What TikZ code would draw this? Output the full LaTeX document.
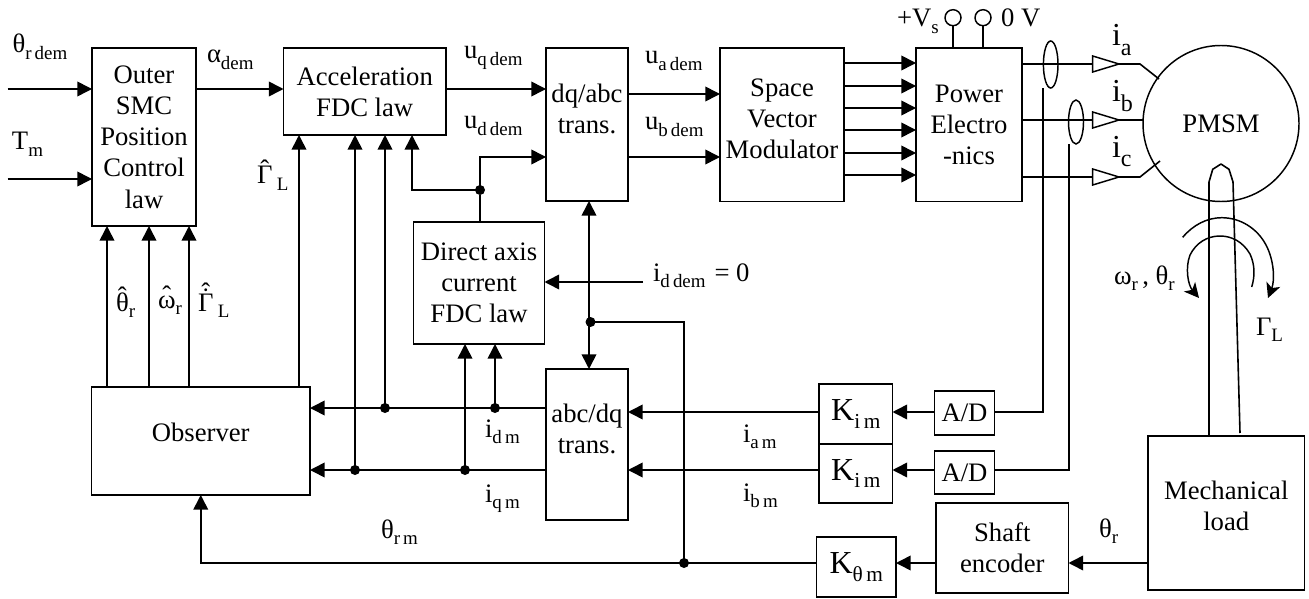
\documentclass[tikz,border=0pt]{standalone}
\usepackage{fontspec}
\setmainfont{Liberation Serif}
\usetikzlibrary{arrows.meta,shapes.geometric}
\newcommand\mainsz{\fontsize{20}{23.4}\selectfont}
\newcommand\gainsz{\fontsize{24}{26}\selectfont}
\newcommand\phasesz{\fontsize{24}{26}\selectfont}
\newcommand\lsub[1]{{\fontsize{14.2}{14.2}\selectfont\raisebox{-5pt}{#1}}}
\newcommand\gsub[1]{{\fontsize{16}{16}\selectfont\raisebox{-5.5pt}{#1}}}
\newcommand\psub[1]{{\fontsize{18}{18}\selectfont\raisebox{-7pt}{#1}}}
\newcommand\hatted[2]{\ooalign{\hfil\raisebox{#2}{ˆ}\hfil\cr #1\cr}}
\newcommand\hatdot[1]{\ooalign{\hfil\raisebox{7pt}{ˆ}\hfil\cr\hfil\raisebox{3.5pt}{˙}\hfil\cr #1\cr}}
\tikzset{
  px/.style 2 args={minimum width=#1*0.75pt,minimum height=#2*0.75pt},
  box/.style={draw,line width=1.2pt,inner sep=0pt,outer sep=0pt,align=center,font=\mainsz},
  gain/.style={box,font=\gainsz},
  lab/.style={anchor=base west,inner sep=0pt,outer sep=0pt,font=\mainsz},
  conn/.style={line width=1.2pt},
  arr/.style={conn,-{Triangle[length=11pt,width=11pt]},shorten >=0pt},
  darr/.style={conn,{Triangle[length=11pt,width=11pt]}-{Triangle[length=11pt,width=11pt]}},
  dot/.style={circle,fill=black,inner sep=0pt,minimum size=7.5pt,outer sep=0pt},
  term/.style={circle,draw,line width=1.1pt,inner sep=0pt,minimum size=12pt,outer sep=0pt},
  sleeve/.style={ellipse,draw,line width=1.1pt,inner sep=0pt,outer sep=0pt},
  buf/.style={draw,line width=1.1pt,fill=white,line join=miter},
  curv/.style={line width=1.1pt,-{Stealth[length=11pt,width=11pt,inset=3pt]}},
}
\begin{document}
\begin{tikzpicture}[x=0.75pt,y=-0.75pt]
\useasboundingbox (0,0) rectangle (1309,599);
% blocks
\node[box,px={104}{178}] (outer) at (144,137) {Outer\\SMC\\Position\\Control\\law};
\node[box,px={162.5}{87}] (accel) at (364.75,91.5) {Acceleration\\FDC law};
\node[box,px={82}{153}] (dq) at (587,124.5) {dq/abc\\trans.\\~};
\node[box,px={124}{153.5}] (svm) at (782,124.75) {Space\\Vector\\Modulator\\[-14pt]~};
\node[box,px={106}{153.5}] (power) at (969,124.75) {Power\\Electro\\-nics};
\node[box,px={131}{122}] (direct) at (479,283) {Direct axis\\current\\FDC law};
\node[box,px={82}{151}] (abc) at (587,444.5) {abc/dq\\trans.\\~};
\node[box,px={218.5}{108}] (obs) at (200.75,441) {Observer\\[-11pt]~};
\node[gain,px={73.5}{60}] (kim1) at (855.75,414) {K\gsub{i\,m}};
\node[gain,px={73.5}{59}] (kim2) at (855.75,473.5) {K\gsub{i\,m}};
\node[gain,px={79.5}{60}] (kth) at (856.25,567) {K\gsub{θ\,m}};
\node[box,px={60}{44}] (ad1) at (964.5,413) {A/D};
\node[box,px={60}{43}] (ad2) at (964.5,472.5) {A/D};
\node[box,px={132.5}{90}] (shaft) at (1002.25,548) {Shaft\\encoder};
\node[box,px={156.5}{154}] (mech) at (1226.25,513) {Mechanical\\load\\[-12pt]~};
\node[circle,draw,line width=1.1pt,minimum size=156*0.75pt,inner sep=0pt,outer sep=0pt,font=\mainsz] (motor) at (1221,123.5) {PMSM};
% rows and columns
\coordinate (rIn1) at (7.5,89);
\coordinate (rIn2) at (7.5,179);
\coordinate (rUa) at (0,94);
\coordinate (rUb) at (0,157);
\coordinate (rId) at (0,408);
\coordinate (rIq) at (0,470);
\coordinate (rKa) at (0,412);
\coordinate (rTh) at (0,563);
\coordinate (cA) at (107,0);
\coordinate (cB) at (149,0);
\coordinate (cC) at (189,0);
\coordinate (cD) at (299,0);
\coordinate (cE) at (412,0);
% inputs
\draw[arr] (rIn1) -- (outer.west |- rIn1);
\draw[arr] (rIn2) -- (outer.west |- rIn2);
\draw[arr] (outer.east |- rIn1) -- (accel.west |- rIn1);
\draw[arr] (accel.east |- rIn1) -- (dq.west |- rIn1);
\draw[arr] (dq.east |- rUa) -- (svm.west |- rUa);
\draw[arr] (dq.east |- rUb) -- (svm.west |- rUb);
% modulator to power electronics
\foreach \yy [count=\ii] in {63,86,108,130,153,175}{
  \coordinate (pwm\ii) at (0,\yy);
  \draw[arr] (svm.east |- pwm\ii) -- (power.west |- pwm\ii);
}
% ud junction
\node[dot] (j1) at (480,190) {};
\draw[conn] (direct.north -| j1) -- (j1);
\draw[arr] (j1.center) |- (dq.west |- rUb);
\draw[arr] (j1.center) -| (accel.south -| cE);
% observer outputs
\draw[arr] (obs.north -| cA) -- (outer.south -| cA);
\draw[arr] (obs.north -| cB) -- (outer.south -| cB);
\draw[arr] (obs.north -| cC) -- (outer.south -| cC);
\draw[arr] (obs.north -| cD) -- (accel.south -| cD);
% measured currents
\node[dot] (j2) at (385,408) {};
\node[dot] (j3) at (495,408) {};
\node[dot] (j4) at (355,470) {};
\node[dot] (j5) at (465,470) {};
\draw[arr] (abc.west |- rId) -- (obs.east |- rId);
\draw[arr] (abc.west |- rIq) -- (obs.east |- rIq);
\draw[arr] (j2.center) -- (accel.south -| j2);
\draw[arr] (j4.center) -- (accel.south -| j4);
\draw[arr] (j3.center) -- (direct.south -| j3);
\draw[arr] (j5.center) -- (direct.south -| j5);
% theta
\node[dot] (j6) at (590.5,322) {};
\node[dot] (j7) at (684,563) {};
\coordinate (cV) at (589,0);
\draw[darr] (dq.south -| cV) -- (abc.north -| cV);
\draw[conn] (j6.center) -| (j7.center);
\draw[arr] (kth.west |- rTh) -| (obs.south);
% iddem
\coordinate (idd) at (643,282);
\draw[arr] (idd) -- (direct.east |- idd);
% feedback
\draw[arr] (kim1.west |- rKa) -- (abc.east |- rKa);
\draw[arr] (kim2.west |- rIq) -- (abc.east |- rIq);
\draw[arr] (ad1.west |- rKa) -- (kim1.east |- rKa);
\draw[arr] (ad2.west |- rIq) -- (kim2.east |- rIq);
\draw[arr] (shaft.west |- rTh) -- (kth.east |- rTh);
\draw[arr] (mech.west |- rTh) -- (shaft.east |- rTh);
% current sensors
\node[sleeve,minimum width=14.6*0.75pt,minimum height=47*0.75pt] (s1) at (1050.7,64.5) {};
\node[sleeve,minimum width=15*0.75pt,minimum height=44*0.75pt] (s2) at (1076,122) {};
\coordinate (cS1) at (1043,0);
\coordinate (cS2) at (1069,0);
\draw[conn] (ad1.east |- rKa) -| (cS1 |- s1.south);
\draw[conn] (ad2.east |- rIq) -| (cS2 |- s2.south);
% phase lines
\coordinate (pa) at (1092.7,64);
\coordinate (pb) at (1092.7,120);
\coordinate (pc) at (1092.7,177);
\coordinate (pae) at (1159,79);
\coordinate (pce) at (1160,161);
\coordinate (mb) at (1143,120);
\draw[conn] (power.east |- pa) -- (pa) -- (1140,64) -- (pae);
\draw[conn] (power.east |- pb) -- (pb) -- (mb);
\draw[conn] (power.east |- pc) -- (pc) -- (1140,177) -- (pce);
\foreach \pp in {pa,pb,pc}{
  \draw[buf] (\pp) ++(0,-8) -- ++(26.3,8) -- ++(-26.3,8) -- cycle;
}
% supply terminals
\node[term] (t1) at (953,17.7) {};
\node[term] (t2) at (983,17.7) {};
\draw[conn] (t1) -- (power.north -| t1);
\draw[conn] (t2) -- (power.north -| t2);
% motor shaft
\coordinate (sL) at (1209,436);
\coordinate (sR) at (1240,433);
\draw[conn,line join=round] (sL) -- (1209,182) -- (1212.7,169.3) -- (1221,164) -- (1229,169.3) -- (1233,182) -- (sR);
% rotation arrows
\draw[curv] (1251.7,287) .. controls (1255,276) and (1255,265) .. (1250,254) .. controls (1243,242) and (1232,236) .. (1220,236) .. controls (1207,236) and (1196,243) .. (1190,255) .. controls (1185,268) and (1188,285) .. (1199,298);
\draw[curv] (1182.7,237.3) .. controls (1193,225) and (1207,217.7) .. (1221.7,217.7) .. controls (1240,217.7) and (1257,228) .. (1266,245) .. controls (1274,260) and (1275,280) .. (1268,298);
% labels
\node[lab] (lThd) at (12.5,53) {θ\lsub{r\,dem}};
\node[lab] (lTm) at (12,150) {T\lsub{m}};
\node[lab] (lAl) at (207,63) {α\lsub{dem}};
\node[lab] (lGh) at (257,184) {\hatted{Γ}{4.5pt}\,\lsub{L}};
\node[lab] (lUq) at (464,59) {u\lsub{q\,dem}};
\node[lab] (lUd) at (464,129) {u\lsub{d\,dem}};
\node[lab] (lUa) at (645,64) {u\lsub{a\,dem}};
\node[lab] (lUb) at (645,130) {u\lsub{b\,dem}};
\node[lab] (lVs) at (897,27) {+V\lsub{s}};
\node[lab] (lV0) at (1001,27) {0 V};
\node[lab,font=\phasesz] (lIa) at (1112,46) {i\psub{a}};
\node[lab,font=\phasesz] (lIb) at (1112,102) {i\psub{b}};
\node[lab,font=\phasesz] (lIc) at (1112,157) {i\psub{c}};
\node[lab] (lIdd) at (653,281) {i\lsub{d\,dem}\,\,= 0};
\node[lab] (lTh1) at (116,311) {\hatted{θ}{4.5pt}\lsub{r}};
\node[lab] (lOm1) at (158,308) {\hatted{ω}{2.5pt}\lsub{r}};
\node[lab] (lGa1) at (198,311) {\hatdot{Γ}\,\lsub{L}};
\node[lab] (lIdm) at (485,437) {i\lsub{d\,m}};
\node[lab] (lIqm) at (485,502) {i\lsub{q\,m}};
\node[lab] (lThm) at (381,538) {θ\lsub{r\,m}};
\node[lab] (lIam) at (743,442) {i\lsub{a\,m}};
\node[lab] (lIbm) at (743,501) {i\lsub{b\,m}};
\node[lab] (lThr) at (1099,537) {θ\lsub{r}};
\node[lab] (lOmr) at (1114,284) {ω\lsub{r}\,, θ\lsub{r}};
\node[lab] (lGam) at (1256,335) {Γ\lsub{L}};
\end{tikzpicture}
\end{document}
